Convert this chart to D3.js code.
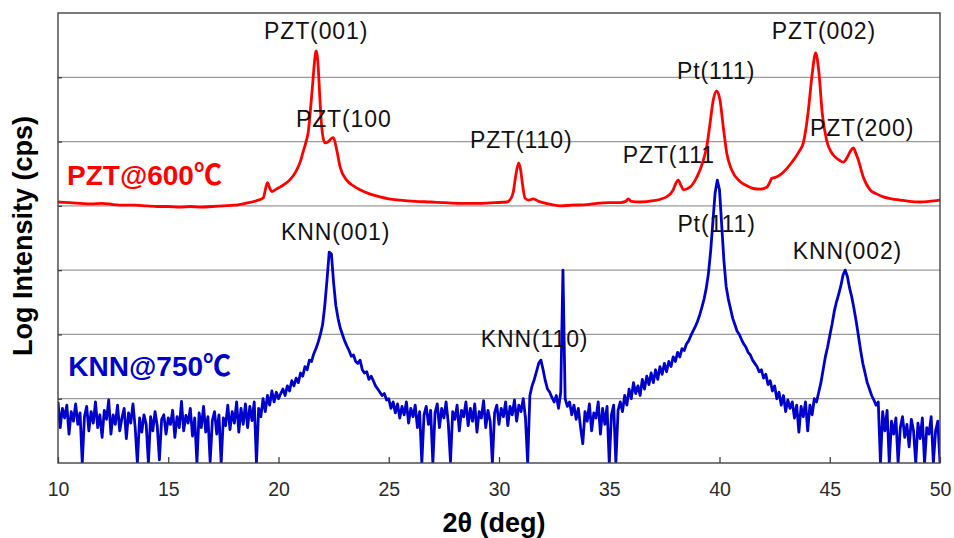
<!DOCTYPE html>
<html>
<head>
<meta charset="utf-8">
<script src="https://cdn.jsdelivr.net/npm/d3@7"></script>
<style>
  html, body { margin: 0; padding: 0; background: #fff; }
  svg { display: block; }
  text { font-family: "Liberation Sans", Arial, "Noto Sans CJK JP", sans-serif; }
</style>
</head>
<body>
<svg id="chart" width="954" height="538"></svg>
<script>
// ---------- data ----------
const xTicks = [10, 15, 20, 25, 30, 35, 40, 45, 50];
const yGrid = [1, 2, 3, 4, 5, 6];

// PZT@600C : [2theta, log-intensity units]
const pztSeries = [
  [10.0,4.06],[10.5,4.05],[11.0,4.04],[11.5,4.03],[12.0,4.04],[12.5,4.02],[13.0,4.01],[13.5,4.01],
  [14.0,4.00],[14.5,3.99],[15.0,3.99],[15.5,3.98],[16.0,3.99],[16.5,3.98],[17.0,3.99],[17.5,4.00],
  [18.0,4.01],[18.5,4.04],[19.0,4.08],[19.3,4.12],[19.5,4.36],[19.6,4.28],[19.7,4.22],[19.9,4.26],
  [20.1,4.30],[20.5,4.40],[20.8,4.54],[21.0,4.70],[21.1,4.82],[21.25,5.00],[21.35,5.15],[21.45,5.50],
  [21.55,5.90],[21.65,6.30],[21.7,6.41],[21.75,6.35],[21.8,6.16],[21.88,5.65],[21.96,5.23],[22.1,4.98],
  [22.26,5.00],[22.4,5.05],[22.49,5.06],[22.64,4.87],[22.79,4.61],[23.09,4.40],[23.4,4.31],[23.7,4.25],
  [24.1,4.19],[24.6,4.14],[25.0,4.11],[25.5,4.09],[26.2,4.07],[26.9,4.06],[27.5,4.05],[28.2,4.04],
  [29.1,4.04],[29.8,4.05],[30.35,4.06],[30.55,4.12],[30.65,4.22],[30.75,4.45],[30.89,4.67],[30.98,4.56],
  [31.08,4.30],[31.18,4.12],[31.35,4.09],[31.56,4.11],[31.8,4.07],[32.0,4.05],[32.4,4.02],[32.77,4.00],
  [33.3,4.01],[34.0,4.02],[34.43,4.04],[35.0,4.05],[35.5,4.05],[35.75,4.07],[35.86,4.11],[36.0,4.07],
  [36.39,4.06],[37.0,4.08],[37.6,4.14],[37.9,4.25],[38.02,4.35],[38.13,4.40],[38.25,4.32],[38.36,4.25],
  [38.66,4.29],[38.9,4.40],[39.12,4.56],[39.3,4.75],[39.42,4.92],[39.57,5.28],[39.72,5.65],[39.87,5.79],
  [40.02,5.65],[40.17,5.23],[40.33,4.82],[40.55,4.56],[40.93,4.38],[41.2,4.32],[41.53,4.27],[41.85,4.26],
  [42.14,4.29],[42.3,4.38],[42.37,4.43],[42.5,4.44],[42.74,4.48],[43.05,4.58],[43.35,4.71],[43.6,4.84],
  [43.8,4.98],[43.92,5.20],[44.03,5.49],[44.21,6.07],[44.36,6.38],[44.51,6.07],[44.66,5.44],[44.86,5.02],
  [45.16,4.79],[45.4,4.72],[45.61,4.68],[45.8,4.76],[45.95,4.86],[46.07,4.90],[46.18,4.82],[46.3,4.71],
  [46.52,4.45],[46.83,4.25],[47.1,4.19],[47.43,4.14],[47.8,4.11],[48.19,4.09],[48.6,4.07],[49.1,4.06],
  [49.5,4.07],[50.0,4.09]
];

// KNN@750C : values at 2theta = 10.0, 10.1, ... 50.0
const knnStart = 10.0, knnStep = 0.1;
const knnValues = [
  0.95,0.55,0.85,0.70,0.90,0.45,0.80,0.65,0.92,0.60,
  0.78,0.00,0.72,0.88,0.50,0.80,0.62,0.95,0.55,0.75,
  0.40,0.82,0.68,0.98,0.45,0.75,0.60,0.90,0.50,0.70,
  0.85,0.38,0.78,0.62,0.92,0.55,0.00,0.70,0.48,0.75,
  0.60,0.00,0.72,0.50,0.80,0.58,0.05,0.68,0.75,0.45,
  0.70,0.60,0.82,0.40,0.72,0.55,0.96,0.50,0.74,0.62,
  0.85,0.42,0.70,0.00,0.78,0.55,0.88,0.48,0.72,0.02,
  0.66,0.80,0.45,0.75,0.00,0.70,0.58,0.90,0.52,0.80,
  0.62,0.95,0.48,0.85,0.60,0.92,0.55,0.88,0.66,0.95,
  0.00,0.85,0.72,1.00,0.80,1.05,0.90,1.12,0.95,1.10,
  1.00,1.08,1.15,1.05,1.20,1.12,1.28,1.20,1.32,1.25,
  1.40,1.35,1.50,1.45,1.60,1.58,1.70,1.78,1.88,2.00,
  2.15,2.45,2.85,3.28,3.25,2.80,2.45,2.25,2.10,2.00,
  1.90,1.82,1.75,1.66,1.68,1.58,1.55,1.60,1.45,1.40,
  1.42,1.30,1.35,1.28,1.20,1.15,1.10,1.05,1.08,0.98,
  1.00,0.85,0.95,0.78,0.92,0.70,0.88,0.75,0.95,0.62,
  0.85,0.72,0.90,0.55,0.80,0.00,0.75,0.88,0.60,0.82,
  0.00,0.78,0.92,0.55,0.85,0.70,0.95,0.62,0.02,0.80,
  0.68,0.90,0.50,0.82,0.72,0.95,0.58,0.85,0.65,0.92,
  0.48,0.80,0.70,0.97,0.55,0.82,0.65,0.00,0.78,0.90,
  0.60,0.85,0.72,0.95,0.58,0.88,0.75,0.98,0.65,0.90,
  0.80,1.00,0.70,0.00,1.05,1.20,1.30,1.42,1.55,1.60,
  1.45,1.28,1.15,1.10,1.02,0.95,1.05,0.85,1.10,3.00,
  1.00,0.88,0.95,0.75,0.90,0.68,0.85,0.55,0.30,0.80,
  0.65,0.92,0.50,0.78,0.70,0.95,0.45,0.85,0.60,0.88,
  0.00,0.75,0.90,0.00,0.82,0.95,0.80,1.05,0.90,1.15,
  1.00,1.25,1.08,1.20,1.05,1.30,1.15,1.35,1.22,1.40,
  1.25,1.45,1.30,1.50,1.38,1.55,1.42,1.58,1.50,1.65,
  1.58,1.72,1.65,1.78,1.75,1.85,1.90,1.98,2.05,2.12,
  2.20,2.30,2.42,2.55,2.72,2.95,3.30,3.75,4.20,4.40,
  4.25,3.70,3.15,2.75,2.55,2.40,2.25,2.15,2.05,2.00,
  1.92,1.85,1.80,1.72,1.68,1.60,1.55,1.50,1.42,1.45,
  1.32,1.38,1.22,1.28,1.12,1.20,1.00,1.10,0.90,1.05,
  0.80,0.98,0.85,0.95,0.70,0.90,0.48,0.88,0.72,0.95,
  0.50,0.90,0.75,1.00,0.95,1.10,1.25,1.45,1.65,1.80,
  1.98,2.15,2.35,2.50,2.62,2.75,2.92,3.00,2.90,2.72,
  2.58,2.40,2.20,1.98,1.75,1.55,1.40,1.25,1.15,1.05,
  0.98,0.90,0.95,0.00,0.80,0.50,0.82,0.00,0.65,0.45,
  0.70,0.00,0.55,0.72,0.40,0.60,0.25,0.68,0.50,0.00,
  0.62,0.38,0.70,0.00,0.55,0.45,0.72,0.00,0.50,0.65,
  0.00
];

// peak annotations: text, 2theta of left edge, baseline level
const peakLabels = [
  { text: "PZT(001)", x: 19.34, y: 6.60 },
  { text: "PZT(100",  x: 20.79, y: 5.23 },
  { text: "PZT(110)", x: 28.68, y: 4.90 },
  { text: "PZT(111",  x: 35.61, y: 4.67 },
  { text: "Pt(111)",  x: 38.07, y: 5.97 },
  { text: "PZT(002)", x: 42.37, y: 6.60 },
  { text: "PZT(200)", x: 44.10, y: 5.08 },
  { text: "KNN(001)", x: 20.11, y: 3.47 },
  { text: "Pt(111)",  x: 38.09, y: 3.60 },
  { text: "KNN(002)", x: 43.32, y: 3.18 },
  { text: "KNN(110)", x: 29.17, y: 1.81 }
];

const sampleLabels = [
  { text: "PZT@600℃", x: 10.41, y: 4.32, color: "#ff0000" },
  { text: "KNN@750℃", x: 10.47, y: 1.35, color: "#0000cc" }
];

// ---------- layout ----------
const svg = d3.select("#chart");
const L = 58, R = 940, T = 13, B = 463;
const x = d3.scaleLinear().domain([10, 50]).range([L, R]);
const y = d3.scaleLinear().domain([0, 7]).range([B, T]);

svg.append("defs").append("clipPath").attr("id", "clip")
  .append("rect").attr("x", L).attr("y", T).attr("width", R - L).attr("height", B - T);

// grid
svg.append("g").selectAll("line").data(yGrid).join("line")
  .attr("x1", L).attr("x2", R)
  .attr("y1", d => y(d)).attr("y2", d => y(d))
  .attr("stroke", "#9a9a9a").attr("stroke-width", 1.2);

// x axis
const xAxis = d3.axisBottom(x).tickValues(xTicks).tickSize(-6).tickPadding(19).tickFormat(d3.format("d"));
const gx = svg.append("g").attr("transform", `translate(0,${B})`).call(xAxis);
gx.select(".domain").remove();
gx.selectAll(".tick line").attr("stroke", "#333").attr("stroke-width", 1.2);
gx.selectAll(".tick text").attr("font-size", 19.5).attr("fill", "#2a2a2a")
  .attr("font-family", "'Liberation Sans', Arial, sans-serif");

// y axis (no labels, small inner ticks)
const yAxis = d3.axisLeft(y).tickValues(yGrid).tickSize(-4).tickFormat("");
const gy = svg.append("g").attr("transform", `translate(${L},0)`).call(yAxis);
gy.select(".domain").remove();
gy.selectAll(".tick line").attr("stroke", "#333").attr("stroke-width", 1.2);

// lines
const pztLine = d3.line().x(d => x(d[0])).y(d => y(d[1])).curve(d3.curveMonotoneX);
const knnLine = d3.line().x((d, i) => x(knnStart + i * knnStep)).y(d => y(d));

const plot = svg.append("g").attr("clip-path", "url(#clip)");
plot.append("path").datum(pztSeries).attr("d", pztLine)
  .attr("fill", "none").attr("stroke", "#ff0000").attr("stroke-width", 2.8)
  .attr("stroke-linejoin", "round");
plot.append("path").datum(knnValues).attr("d", knnLine)
  .attr("fill", "none").attr("stroke", "#0000cc").attr("stroke-width", 2.8)
  .attr("stroke-linejoin", "round");

// frame
svg.append("rect").attr("x", L).attr("y", T).attr("width", R - L).attr("height", B - T)
  .attr("fill", "none").attr("stroke", "#444").attr("stroke-width", 1.4);

// peak labels
svg.append("g").selectAll("text").data(peakLabels).join("text")
  .attr("x", d => x(d.x)).attr("y", d => y(d.y))
  .attr("font-size", 23).attr("letter-spacing", "0.9px").attr("fill", "#111")
  .text(d => d.text);

// sample labels
svg.append("g").selectAll("text").data(sampleLabels).join("text")
  .attr("x", d => x(d.x)).attr("y", d => y(d.y))
  .attr("font-size", 28).attr("font-weight", "bold").attr("fill", d => d.color)
  .text(d => d.text);

// axis titles
svg.append("text").attr("x", 494).attr("y", 532).attr("text-anchor", "middle")
  .attr("font-size", 27).attr("font-weight", "bold").attr("fill", "#000")
  .text("2θ (deg)");
svg.append("text").attr("transform", "translate(32,236) rotate(-90)").attr("text-anchor", "middle")
  .attr("font-size", 27).attr("font-weight", "bold").attr("fill", "#000")
  .text("Log Intensity (cps)");
</script>
</body>
</html>
